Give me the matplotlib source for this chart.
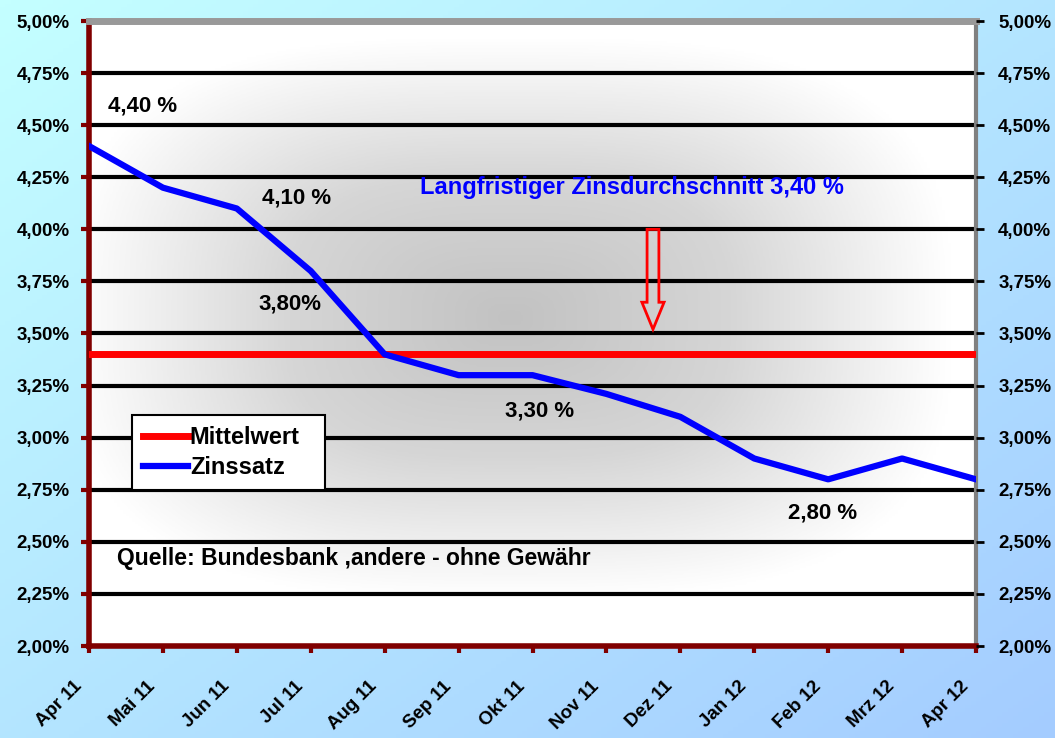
import numpy as np
import matplotlib
matplotlib.use('Agg')
import matplotlib.pyplot as plt
import matplotlib.transforms as mtransforms
from matplotlib.patches import FancyArrow
from matplotlib.colors import LinearSegmentedColormap

# data
months = ['Apr 11', 'Mai 11', 'Jun 11', 'Jul 11', 'Aug 11', 'Sep 11', 'Okt 11',
          'Nov 11', 'Dez 11', 'Jan 12', 'Feb 12', 'Mrz 12', 'Apr 12']
zinssatz = [4.40, 4.20, 4.10, 3.80, 3.40, 3.30, 3.30, 3.21, 3.10, 2.90, 2.80, 2.90, 2.80]
mittelwert = 3.40
yticks = [2.00, 2.25, 2.50, 2.75, 3.00, 3.25, 3.50, 3.75, 4.00, 4.25, 4.50, 4.75, 5.00]
ylabels = ['%.2f%%' % v for v in yticks]
ylabels = [s.replace('.', ',') for s in ylabels]

plt.rcParams['font.family'] = ['Liberation Sans', 'DejaVu Sans']
plt.rcParams['font.weight'] = 'bold'

fig = plt.figure(figsize=(10.55, 7.38), dpi=100)

# outer background gradient cyan -> light blue
bg = fig.add_axes([0, 0, 1, 1], zorder=-10)
gx, gy = np.meshgrid(np.linspace(0, 1, 200), np.linspace(0, 1, 200))
g = (gx + gy) / 2
bgcmap = LinearSegmentedColormap.from_list('bg', ['#c4ffff', '#a4ccff'])
bg.imshow(g, cmap=bgcmap, aspect='auto', extent=(0, 1, 0, 1), origin='upper')
bg.axis('off')

ax = fig.add_axes([89/1055, 1-646/738, 887/1055, 625/738])
x = np.arange(len(months))
ax.set_xlim(0, len(months)-1)
ax.set_ylim(2, 5)

# plot area gradient white -> gray (from centre)
px, py = np.meshgrid(np.linspace(-1, 1, 300), np.linspace(-1, 1, 300))
r = (np.abs((px+0.05)/1.0)**3 + np.abs((py+0.05)/0.9)**3) ** (1/3)
r = np.clip(r, 0, 1)
pacmap = LinearSegmentedColormap.from_list('pa', ['#c2c2c2', '#d6d6d6', '#ffffff'])
ax.imshow(r, cmap=pacmap, aspect='auto', extent=(0, 12, 2, 5), zorder=0, vmin=0, vmax=1)

for v in yticks[1:-1]:
    ax.axhline(v, color='black', lw=3, zorder=1)

ax.axhline(mittelwert, color='#ff0000', lw=5, zorder=3, label='Mittelwert')
ax.plot(x, zinssatz, color='#0000ff', lw=4.5, zorder=4, label='Zinssatz')

for s in ['left', 'bottom']:
    ax.spines[s].set_color('#800000')
    ax.spines[s].set_linewidth(4)
ax.spines['top'].set_color('#999999')
ax.spines['top'].set_linewidth(5)
ax.spines['right'].set_color('#808080')
ax.spines['right'].set_linewidth(3)

ax.set_yticks(yticks)
ax.set_yticklabels(ylabels, fontsize=13.5, fontweight='bold')
ax.set_xticks(x)
ax.set_xticklabels(months, rotation=45, ha='right', rotation_mode='anchor',
                   fontsize=13.5, fontweight='bold')
ax.tick_params(axis='y', colors='#800000', labelcolor='black', length=6, width=3, direction='out', pad=8)
ax.tick_params(axis='x', colors='#800000', labelcolor='black', length=5, width=3, direction='out', pad=18)
shift = mtransforms.ScaledTranslation(-16/100, 0, fig.dpi_scale_trans)
for lab in ax.get_xticklabels():
    lab.set_transform(lab.get_transform() + shift)

ax2 = ax.twinx()
ax2.set_ylim(2, 5)
ax2.set_yticks(yticks)
ax2.set_yticklabels(ylabels, fontsize=13.5, fontweight='bold')
ax2.tick_params(axis='y', colors='black', length=6, width=2, direction='out', pad=10)
for s in ax2.spines.values():
    s.set_visible(False)

# annotations
tk = dict(fontsize=16, fontweight='bold', color='black', ha='center', va='center', zorder=6)
ax.text(0.73, 4.59, '4,40 %', **tk)
ax.text(2.81, 4.15, '4,10 %', **tk)
ax.text(2.72, 3.64, '3,80%', **tk)
ax.text(6.10, 3.13, '3,30 %', **tk)
ax.text(9.93, 2.64, '2,80 %', **tk)
ax.text(7.35, 4.20, 'Langfristiger Zinsdurchschnitt 3,40 %', fontsize=17,
        fontweight='bold', color='#0000ff', ha='center', va='center', zorder=6)
ax.text(0.38, 2.42, 'Quelle: Bundesbank ,andere - ohne Gewähr', fontsize=16.5,
        fontweight='bold', color='black', ha='left', va='center', zorder=6)

arrow = FancyArrow(7.63, 4.00, 0, -0.48, width=0.16, head_width=0.30,
                   head_length=0.13, length_includes_head=True,
                   facecolor='none', edgecolor='#ff0000', lw=2, zorder=5)
ax.add_patch(arrow)

leg = ax.legend(loc='lower left', bbox_to_anchor=(0.0485, 0.25, 0.2176, 0.123),
                mode='expand', borderaxespad=0, fancybox=False, framealpha=1,
                edgecolor='black', handlelength=1.9, handletextpad=0.1,
                labelspacing=0.3, borderpad=0.45,
                prop={'weight': 'bold', 'size': 17})
leg.get_frame().set_linewidth(1.5)
leg.set_zorder(7)

fig.savefig('out.png', dpi=100)
